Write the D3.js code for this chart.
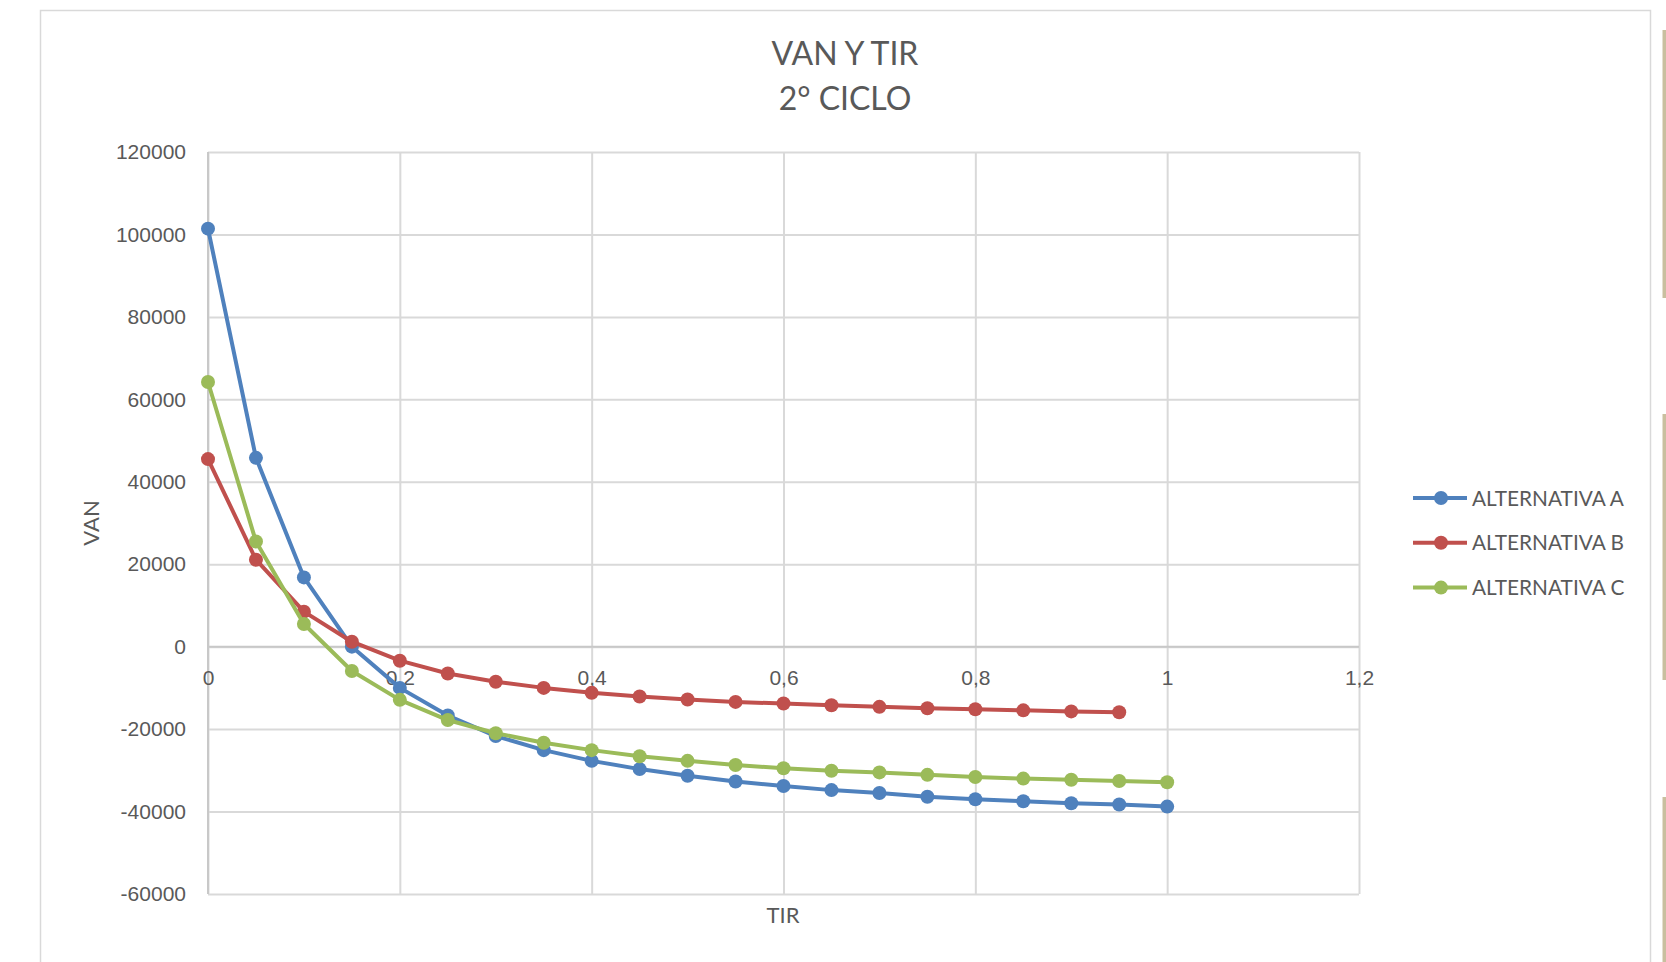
<!DOCTYPE html>
<html>
<head>
<meta charset="UTF-8">
<title>VAN Y TIR - 2° CICLO</title>
<script src="https://cdnjs.cloudflare.com/ajax/libs/d3/7.8.5/d3.min.js"></script>
<style>
  body { margin: 0; background: #fff; overflow: hidden; }
  svg { display: block; font-family: Lato, "Open Sans", sans-serif; }
  .grid line { stroke: #d9d9d9; stroke-width: 2; }
  .grid path { display: none; }
  .tick text { fill: #595959; font-size: 21px; }
  .series { fill: none; stroke-width: 4; stroke-linejoin: round; }
</style>
</head>
<body>
<div id="chart"></div>
<script>
// TIR (x) values
const tir = [0, 0.05, 0.1, 0.15, 0.2, 0.25, 0.3, 0.35, 0.4, 0.45, 0.5,
             0.55, 0.6, 0.65, 0.7, 0.75, 0.8, 0.85, 0.9, 0.95, 1];
// VAN per alternative
const vanA = [101400, 45800, 16800, 0, -10000, -16700, -21700, -25100, -27700, -29700, -31300,
              -32700, -33800, -34800, -35500, -36400, -37000, -37500, -38000, -38300, -38800];
const vanB = [45500, 21100, 8500, 1200, -3400, -6500, -8500, -10000, -11200, -12100, -12800,
              -13400, -13800, -14200, -14600, -14950, -15200, -15450, -15700, -15900];
const vanC = [64200, 25500, 5500, -5900, -12900, -17800, -21000, -23300, -25100, -26600, -27700,
              -28700, -29500, -30100, -30500, -31100, -31600, -32000, -32300, -32600, -32900];
const seriesNames = ["ALTERNATIVA A", "ALTERNATIVA B", "ALTERNATIVA C"];
const seriesColors = ["#4f81bd", "#c0504d", "#9bbb59"];
const xTicks = [0, 0.2, 0.4, 0.6, 0.8, 1, 1.2];
const yTicks = [-60000, -40000, -20000, 0, 20000, 40000, 60000, 80000, 100000, 120000];

const W = 1666, H = 962;
const plot = {left: 208, right: 1359, top: 152, bottom: 894};

const svg = d3.select("#chart").append("svg")
  .attr("width", W).attr("height", H);

// outer chart frame
svg.append("rect")
  .attr("x", 40.5).attr("y", 10.5)
  .attr("width", 1610).attr("height", 980)
  .attr("fill", "#fff").attr("stroke", "#d9d9d9").attr("stroke-width", 1.5);

// tan bars on the far right edge
[[30, 298], [414, 680], [797, 962]].forEach(s => {
  svg.append("rect").attr("x", 1662.5).attr("y", s[0])
    .attr("width", 4).attr("height", s[1] - s[0]).attr("fill", "#c9bf9f");
});

const x = d3.scaleLinear().domain([0, 1.2]).range([plot.left, plot.right]);
const y = d3.scaleLinear().domain([-60000, 120000]).range([plot.bottom, plot.top]);

// gridlines
svg.append("g").attr("class", "grid")
  .attr("transform", `translate(${plot.left},0)`)
  .call(d3.axisLeft(y).tickValues(yTicks).tickSize(-(plot.right - plot.left)).tickFormat(""));
svg.append("g").attr("class", "grid")
  .attr("transform", `translate(0,${plot.bottom})`)
  .call(d3.axisBottom(x).tickValues(xTicks).tickSize(plot.bottom - plot.top).tickFormat(""))
  .selectAll("line").attr("transform", `translate(0,${-(plot.bottom - plot.top)})`);

// axis lines
svg.append("line")
  .attr("x1", x(0)).attr("x2", x(0)).attr("y1", plot.top).attr("y2", plot.bottom)
  .attr("stroke", "#c8c8c8").attr("stroke-width", 2);
svg.append("line")
  .attr("x1", plot.left).attr("x2", plot.right).attr("y1", y(0)).attr("y2", y(0))
  .attr("stroke", "#c8c8c8").attr("stroke-width", 2);

// y tick labels (plain hyphen for negatives)
const yAxis = svg.append("g")
  .attr("transform", `translate(${plot.left},0)`)
  .call(d3.axisLeft(y).tickValues(yTicks).tickSize(0).tickPadding(22).tickFormat(d => String(d)));
yAxis.select(".domain").remove();

// x tick labels (next to the zero line, comma decimals)
const xAxis = svg.append("g")
  .attr("transform", `translate(0,${y(0)})`)
  .call(d3.axisBottom(x).tickValues(xTicks).tickSize(0).tickPadding(23)
    .tickFormat(d => String(d).replace(".", ",")));
xAxis.select(".domain").remove();

// series
const allSeries = [vanA, vanB, vanC];
const line = d3.line().x(d => x(d[0])).y(d => y(d[1]));
allSeries.forEach((vals, i) => {
  const pts = vals.map((v, j) => [tir[j], v]);
  svg.append("path").attr("class", "series")
    .attr("d", line(pts)).attr("stroke", seriesColors[i]);
  svg.append("g").selectAll("circle").data(pts).join("circle")
    .attr("cx", d => x(d[0])).attr("cy", d => y(d[1])).attr("r", 7)
    .attr("fill", seriesColors[i]);
});

// titles
const title = svg.append("text")
  .attr("text-anchor", "middle").attr("fill", "#595959").attr("font-size", 32);
title.append("tspan").attr("x", 845).attr("y", 65).text("VAN Y TIR");
title.append("tspan").attr("x", 845).attr("y", 110).text("2° CICLO");

svg.append("text")
  .attr("transform", "translate(99,523) rotate(-90)")
  .attr("text-anchor", "middle").attr("fill", "#595959").attr("font-size", 22)
  .text("VAN");
svg.append("text")
  .attr("x", 783).attr("y", 923)
  .attr("text-anchor", "middle").attr("fill", "#595959").attr("font-size", 22)
  .text("TIR");

// legend
const legend = svg.append("g").selectAll("g").data(seriesNames).join("g")
  .attr("transform", (d, i) => `translate(1413,${498 + i * 44.8})`);
legend.append("line").attr("x1", 0).attr("x2", 54)
  .attr("stroke", (d, i) => seriesColors[i]).attr("stroke-width", 4);
legend.append("circle").attr("cx", 28).attr("r", 7)
  .attr("fill", (d, i) => seriesColors[i]);
legend.append("text").attr("x", 59).attr("y", 7.5)
  .attr("fill", "#595959").attr("font-size", 20.8).text(d => d);
</script>
</body>
</html>
